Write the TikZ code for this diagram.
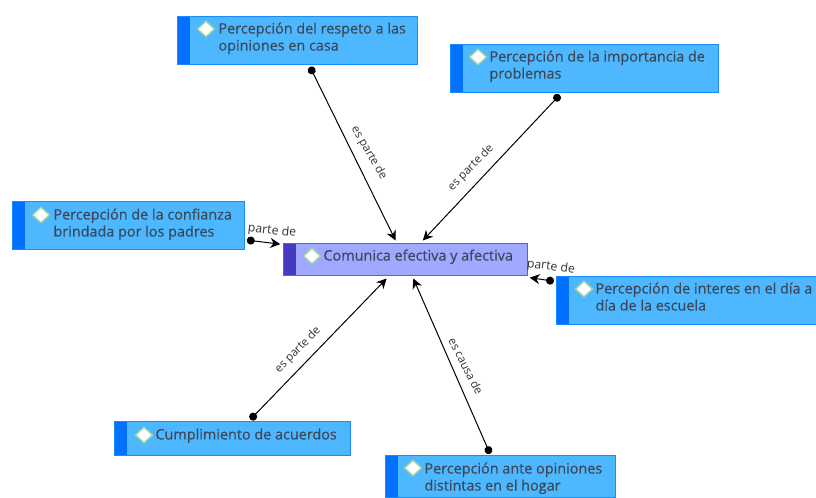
\documentclass[tikz,border=0pt]{standalone}
\usepackage{fontspec}
\setmainfont{Open Sans}
\newfontfamily\fuenteconcepto{Open Sans}[FakeBold=0.35]
\usetikzlibrary{arrows.meta,shapes.geometric}

\definecolor{fillconcepto}{RGB}{77,184,255}
\definecolor{bordeconcepto}{RGB}{26,140,255}
\definecolor{franjaconcepto}{RGB}{0,112,255}
\definecolor{fillcentral}{RGB}{160,168,255}
\definecolor{bordecentral}{RGB}{92,92,230}
\definecolor{franjacentral}{RGB}{72,58,192}
\definecolor{textoconcepto}{RGB}{60,72,88}
\definecolor{bordeverde}{RGB}{165,214,160}

\tikzset{
  every picture/.style={line width=0.75pt},
  concepto/.style={draw=bordeconcepto,fill=fillconcepto,outer sep=1.5pt,inner sep=0pt,
    path picture={\fill[franjaconcepto] (path picture bounding box.north west) rectangle ([xshift=9.5pt]path picture bounding box.south west);}},
  central/.style={draw=bordecentral,fill=fillcentral,outer sep=2pt,inner sep=0pt,
    path picture={\fill[franjacentral] (path picture bounding box.north west) rectangle ([xshift=9.5pt]path picture bounding box.south west);}},
  rombo/.style={diamond,draw=bordeverde,fill=white,line width=1pt,inner sep=0pt,minimum width=13pt,minimum height=12pt},
  texto/.style={anchor=north west,align=left,inner sep=0pt,text=textoconcepto,font=\fuenteconcepto\fontsize{10.8pt}{12.75pt}\selectfont},
  relacion/.style={text=black!80,inner sep=0pt,font=\fontsize{8.6pt}{10pt}\selectfont},
  relacioncorta/.style={relacion,font=\fontsize{9.2pt}{10pt}\selectfont},
  enlace/.style={black,line width=0.75pt,{Circle[length=6pt]}-{Stealth[length=7.5pt,width=7.5pt]}}
}

\begin{document}
\begin{tikzpicture}[x=0.75pt,y=0.75pt,yscale=-1,xscale=1]
\useasboundingbox (0,0) rectangle (816,497);

% Concept boxes
\node [central,minimum width=183pt,minimum height=24.5pt] (comunica) at (405,259.5) {};
\node [concepto,minimum width=180pt,minimum height=36.5pt] (respeto) at (297,40.5) {};
\node [concepto,minimum width=201.5pt,minimum height=36.5pt] (problemas) at (584.5,68.5) {};
\node [concepto,minimum width=174.5pt,minimum height=36.5pt] (confianza) at (128.5,225.5) {};
\node [concepto,minimum width=195pt,minimum height=36.5pt] (interes) at (686,300.5) {};
\node [concepto,minimum width=177pt,minimum height=25.5pt] (acuerdos) at (232,438.5) {};
\node [concepto,minimum width=172.5pt,minimum height=31pt] (opiniones) at (500,476.5) {};

% Diamonds
\node [rombo] (drespeto) at (206,29) {};
\node [rombo] (dproblemas) at (478,57) {};
\node [rombo] (dconfianza) at (41,215) {};
\node [rombo] (dcomunica) at (312,256) {};
\node [rombo] (dinteres) at (584,289) {};
\node [rombo] (dacuerdos) at (144,435) {};
\node [rombo] (dopiniones) at (413,468) {};

% Text Node
\node [texto] (trespeto) at (218,22) {Percepción del respeto a las\\opiniones en casa};
\node [texto] (tproblemas) at (489,50) {Percepción de la importancia de\\problemas};
\node [texto] (tconfianza) at (53,208) {Percepción de la confianza\\brindada por los padres};
\node [texto] (tcomunica) at (323,249) {Comunica efectiva y afectiva};
\node [texto] (tinteres) at (595,282) {Percepción de interes en el día a\\día de la escuela};
\node [texto] (tacuerdos) at (155,428) {Cumplimiento de acuerdos};
\node [texto] (topiniones) at (424,462) {Percepción ante opiniones\\distintas en el hogar};

% Connectors
\draw [enlace] (respeto) -- (comunica);
\draw [enlace] (problemas) -- (comunica);
\draw [enlace] (confianza) -- (comunica);
\draw [enlace] (interes) -- (comunica);
\draw [enlace] (acuerdos) -- (comunica);
\draw [enlace] (opiniones) -- (comunica);

% Relation labels
\node [relacion,rotate=-60] (lrespeto) at (369,153) {es parte de};
\node [relacion,rotate=46] (lproblemas) at (471,168) {es parte de};
\node [relacioncorta,rotate=-6] (lconfianza) at (272,231) {parte de};
\node [relacioncorta,rotate=-7] (linteres) at (551,267) {parte de};
\node [relacion,rotate=46] (lacuerdos) at (298,350) {es parte de};
\node [relacion,rotate=-63] (lopiniones) at (466,366) {es causa de};

\end{tikzpicture}
\end{document}
